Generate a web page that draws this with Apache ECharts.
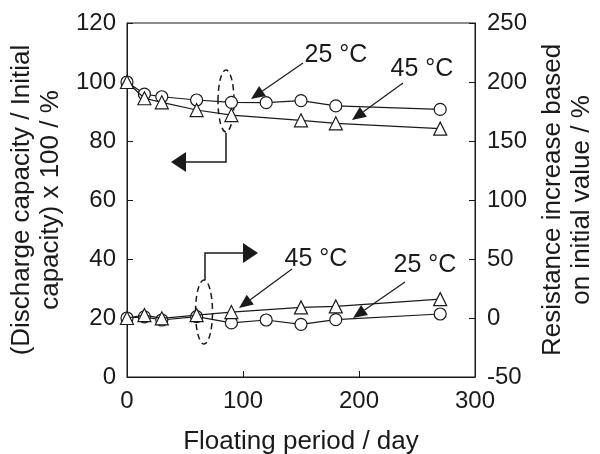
<!DOCTYPE html>
<html>
<head>
<meta charset="utf-8">
<script src="https://cdn.jsdelivr.net/npm/echarts@6/dist/echarts.min.js"></script>
<style>
  html, body { margin: 0; padding: 0; background: #fff; }
  #chart { width: 600px; height: 454px; }
</style>
</head>
<body>
<div id="chart"></div>
<script>
// capacity retention (left axis)
const daysCap25 = [0, 15, 30, 60, 90, 120, 150, 180, 270]
const cap25 = [100, 95.9, 95.0, 93.9, 93.1, 93.0, 93.7, 91.9, 90.7]
const daysCap45 = [0, 15, 30, 60, 90, 150, 180, 270]
const cap45 = [100, 94.5, 93.1, 90.5, 88.8, 87.0, 86.0, 84.2]

// resistance increase (right axis)
const daysRes25 = [0, 15, 30, 60, 90, 120, 150, 180, 270]
const res25 = [0, 1.0, -1.7, 1.1, -4.2, -1.7, -5.4, -1.4, 3.4]
const daysRes45 = [0, 15, 30, 60, 90, 150, 180, 270]
const res45 = [0, 2.5, -0.3, 2.5, 5.0, 9.0, 9.8, 16.0]

const xTicks = [0, 100, 200, 300]
const FONT = "'Liberation Sans', Arial, sans-serif"
const INK = '#1a1a1a'

const pairs = (xs, ys) => xs.map((x, i) => [x, ys[i]])

const markerSeries = (name, symbol, data, yAxisIndex) => ({
  name,
  type: 'line',
  yAxisIndex,
  data,
  symbol,
  symbolSize: symbol === 'triangle' ? 13 : 12,
  showSymbol: true,
  lineStyle: { color: INK, width: 1.2 },
  itemStyle: { color: '#fff', borderColor: INK, borderWidth: 1.2 },
  z: symbol === 'triangle' ? 3 : 2,
  animation: false,
})

// annotation arrow: line with a filled head at (x2, y2)
const arrow = (x1, y1, x2, y2) => {
  const dx = x2 - x1, dy = y2 - y1
  const len = Math.hypot(dx, dy)
  const ux = dx / len, uy = dy / len
  const hl = 14, hw = 6
  const bx = x2 - ux * hl, by = y2 - uy * hl
  return [
    { type: 'line', shape: { x1, y1, x2: bx, y2: by }, style: { stroke: INK, lineWidth: 1.2 } },
    {
      type: 'polygon',
      shape: { points: [[x2, y2], [bx - uy * hw, by + ux * hw], [bx + uy * hw, by - ux * hw]] },
      style: { fill: INK },
    },
  ]
}

const label = (text, x, y) => ({
  type: 'text',
  x, y,
  style: { text, font: `25px ${FONT}`, fill: INK, align: 'center', verticalAlign: 'middle' },
})

const dashed = { fill: 'none', stroke: INK, lineWidth: 1.5, lineDash: [6, 4] }

const graphics = [
  { type: 'ellipse', shape: { cx: 226, cy: 101, rx: 8, ry: 31 }, style: dashed },
  { type: 'ellipse', shape: { cx: 204, cy: 312, rx: 8.5, ry: 32 }, style: dashed },
  // left-pointing arrow (capacity -> left axis)
  { type: 'polyline', shape: { points: [[226, 133], [226, 162], [185, 162]] }, style: { stroke: INK, lineWidth: 1.5, fill: 'none' } },
  { type: 'polygon', shape: { points: [[186, 152], [171, 162], [186, 172]] }, style: { fill: INK } },
  // right-pointing arrow (resistance -> right axis)
  { type: 'polyline', shape: { points: [[205, 280], [205, 253], [244, 253]] }, style: { stroke: INK, lineWidth: 1.5, fill: 'none' } },
  { type: 'polygon', shape: { points: [[243, 243], [258, 253], [243, 263]] }, style: { fill: INK } },
  label('25 °C', 336, 55),
  label('45 °C', 422, 69),
  label('45 °C', 316, 259),
  label('25 °C', 425, 265),
  ...arrow(303, 63, 251, 99),
  ...arrow(403, 83, 352, 120),
  ...arrow(292, 269, 239, 308),
  ...arrow(405, 282, 353, 318),
]

const tickText = { fontFamily: FONT, fontSize: 24, color: INK }
const nameText = { fontFamily: FONT, fontSize: 26, color: INK }

const chart = echarts.init(document.getElementById('chart'))
chart.setOption({
  backgroundColor: '#fff',
  animation: false,
  grid: {
    left: 127, right: 125, top: 23, bottom: 77,
    outerBoundsMode: 'none',
    show: true, borderColor: INK, borderWidth: 1,
  },
  xAxis: {
    type: 'value',
    min: xTicks[0],
    max: xTicks[xTicks.length - 1],
    interval: 100,
    name: 'Floating period / day',
    nameLocation: 'middle',
    nameGap: 52,
    nameTextStyle: nameText,
    axisLine: { lineStyle: { color: INK } },
    axisTick: { inside: true, length: 6, lineStyle: { color: INK } },
    axisLabel: { ...tickText, margin: 12 },
    splitLine: { show: false },
  },
  yAxis: [
    {
      type: 'value',
      min: 0, max: 120, interval: 20,
      name: '(Discharge capacity / Initial\ncapacity) x 100 / %',
      nameLocation: 'middle',
      nameGap: 50,
      nameTextStyle: { ...nameText, lineHeight: 29 },
      axisLine: { lineStyle: { color: INK } },
      axisTick: { inside: true, length: 6, lineStyle: { color: INK } },
      axisLabel: { ...tickText, margin: 11 },
      splitLine: { show: false },
    },
    {
      type: 'value',
      min: -50, max: 250, interval: 50,
      name: 'Resistance increase based\non initial value / %',
      nameLocation: 'middle',
      nameGap: 60,
      nameTextStyle: { ...nameText, lineHeight: 29 },
      axisLine: { lineStyle: { color: INK } },
      axisTick: { inside: true, length: 6, lineStyle: { color: INK } },
      axisLabel: { ...tickText, margin: 12 },
      splitLine: { show: false },
    },
  ],
  series: [
    markerSeries('25 °C capacity', 'circle', pairs(daysCap25, cap25), 0),
    markerSeries('45 °C capacity', 'triangle', pairs(daysCap45, cap45), 0),
    markerSeries('25 °C resistance', 'circle', pairs(daysRes25, res25), 1),
    markerSeries('45 °C resistance', 'triangle', pairs(daysRes45, res45), 1),
  ],
  graphic: graphics,
})
</script>
</body>
</html>
